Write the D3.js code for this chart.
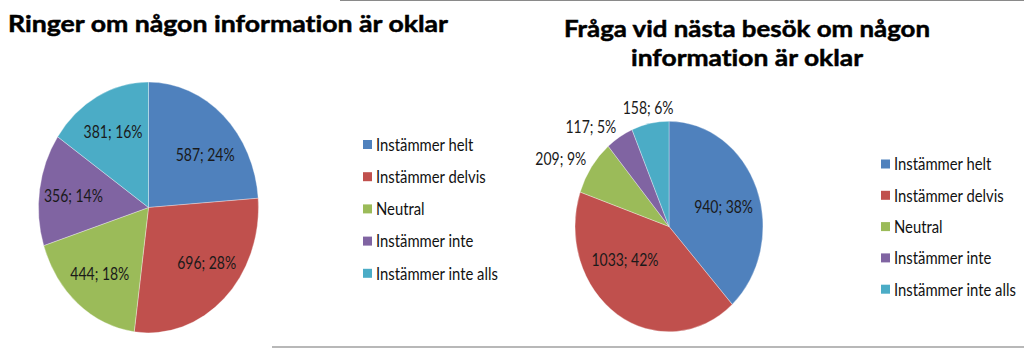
<!DOCTYPE html>
<html>
<head>
<meta charset="utf-8">
<script src="https://cdn.jsdelivr.net/npm/d3@7"></script>
<style>
  html, body { margin: 0; padding: 0; background: #fff; }
  svg { display: block; }
  text { font-variant-ligatures: none; }
</style>
</head>
<body>
<svg id="chart" width="1024" height="348"></svg>
<script>
// ---- data ----
const categories = ["Instämmer helt", "Instämmer delvis", "Neutral", "Instämmer inte", "Instämmer inte alls"];
const ringerValues = [587, 696, 444, 356, 381];
const ringerPercents = [24, 28, 18, 14, 16];
const fragaValues = [940, 1033, 209, 117, 158];
const fragaPercents = [38, 42, 9, 5, 6];
const ringerTitle = ["Ringer om någon information är oklar"];
const fragaTitle = ["Fråga vid nästa besök om någon", "information är oklar"];

// ---- style ----
const colors = ["#4F81BD", "#C0504D", "#9BBB59", "#8064A2", "#4BACC6"];
const FONT = "Lato, 'Open Sans', sans-serif";
const LEGEND_SIZE = 16.5, LABEL_SIZE = 17;

const svg = d3.select("#chart");
const color = d3.scaleOrdinal().domain(categories).range(colors);

// measure a string so body text can be condensed to a narrow face
function measure(str, size, weight) {
  const t = svg.append("text").style("font-family", FONT).style("font-size", size + "px")
    .style("font-weight", weight || 400).text(str);
  const w = t.node().getComputedTextLength();
  t.remove();
  return w;
}
const legendSqueeze = Math.min(1, 122 / measure(categories[4], LEGEND_SIZE));
const labelSqueeze = Math.min(1, 59 / measure("587; 24%", LABEL_SIZE));

// thin frame edges along the top and bottom
svg.append("line").attr("x1", 340).attr("x2", 1024).attr("y1", 0.5).attr("y2", 0.5)
  .attr("stroke", "#8a8a8a").attr("stroke-width", 1.2);
svg.append("line").attr("x1", 272).attr("x2", 1024).attr("y1", 347).attr("y2", 347)
  .attr("stroke", "#a0a0a0").attr("stroke-width", 1.4);

function squeezedText(g, x, y, str, size, anchor, fill, k) {
  return g.append("text")
    .attr("transform", `translate(${x},${y}) scale(${k},1)`)
    .attr("text-anchor", anchor)
    .attr("dominant-baseline", "central")
    .style("font-family", FONT)
    .style("font-size", size + "px")
    .attr("fill", fill)
    .text(str);
}

function drawPanel(cfg) {
  const g = svg.append("g");

  // title
  cfg.title.forEach((line, i) => {
    g.append("text")
      .attr("x", cfg.titleX)
      .attr("y", cfg.titleY[i])
      .attr("text-anchor", cfg.titleAnchor)
      .attr("textLength", cfg.titleLen[i])
      .attr("lengthAdjust", "spacingAndGlyphs")
      .style("font-family", FONT)
      .style("font-weight", 700)
      .style("font-size", "23.5px")
      .attr("fill", "#000")
      .attr("stroke", "#000")
      .attr("stroke-width", 0.5)
      .text(line);
  });

  // pie
  const pie = d3.pie().sort(null).value(d => d.value)
    .startAngle(0).endAngle(2 * Math.PI);
  const rows = categories.map((c, i) => ({ cat: c, value: cfg.values[i], pct: cfg.percents[i] }));
  const arcs = pie(rows);
  const arc = d3.arc().innerRadius(0).outerRadius(cfg.r);

  const pg = g.append("g")
    .attr("transform", `translate(${cfg.cx},${cfg.cy}) scale(1,${cfg.sy})`);
  pg.selectAll("path").data(arcs).join("path")
    .attr("d", arc)
    .attr("fill", d => color(d.data.cat))
    .attr("stroke", "rgba(255,255,255,0.45)")
    .attr("stroke-width", 0.7);

  // value labels
  const inner = d3.arc().innerRadius(0).outerRadius(cfg.r * cfg.labelFrac * 2);
  arcs.forEach((d, i) => {
    const label = `${d.data.value}; ${d.data.pct}%`;
    const mid = (d.startAngle + d.endAngle) / 2;
    const nudge = cfg.nudge[i] || [0, 0];
    if (d.data.pct < cfg.outsideBelow) {
      const rr = cfg.r + 10;
      const px = Math.sin(mid) * rr, py = -Math.cos(mid) * rr * cfg.sy;
      const anchor = Math.abs(Math.sin(mid)) > 0.5 ? (Math.sin(mid) < 0 ? "end" : "start") : "middle";
      squeezedText(g, cfg.cx + px + nudge[0], cfg.cy + py + nudge[1], label, LABEL_SIZE, anchor, "#1a1a1a", labelSqueeze);
    } else {
      const [px, py] = inner.centroid(d);
      squeezedText(g, cfg.cx + px + nudge[0], cfg.cy + py * cfg.sy + nudge[1], label, LABEL_SIZE, "middle", "#1a1a1a", labelSqueeze);
    }
  });

  // legend
  const lg = g.append("g").attr("transform", `translate(${cfg.legendX},${cfg.legendY})`);
  categories.forEach((c, i) => {
    const row = lg.append("g").attr("transform", `translate(0,${i * cfg.legendStep})`);
    row.append("rect").attr("x", 0).attr("y", -4.5).attr("width", 9).attr("height", 9)
      .attr("fill", color(c));
    squeezedText(row, 13, 0, c, LEGEND_SIZE, "start", "#111", legendSqueeze);
  });
}

drawPanel({
  values: ringerValues, percents: ringerPercents, title: ringerTitle,
  titleX: 8, titleAnchor: "start", titleY: [31.5], titleLen: [440],
  cx: 148.5, cy: 207.5, r: 110, sy: 1.14, labelFrac: 0.69, outsideBelow: 0,
  nudge: [[5, 10], [6, -8], [0, 0], [0, 0], [0, 0]],
  legendX: 363, legendY: 144.5, legendStep: 32.2
});

drawPanel({
  values: fragaValues, percents: fragaPercents, title: fragaTitle,
  titleX: 747, titleAnchor: "middle", titleY: [37, 65.5], titleLen: [366, 232],
  cx: 669, cy: 226.5, r: 94, sy: 1.12, labelFrac: 0.6, outsideBelow: 10,
  nudge: [[2, 3], [-13, -20], [3, -2], [2, -1], [0, -5]],
  legendX: 881, legendY: 164, legendStep: 31.3
});
</script>
</body>
</html>
